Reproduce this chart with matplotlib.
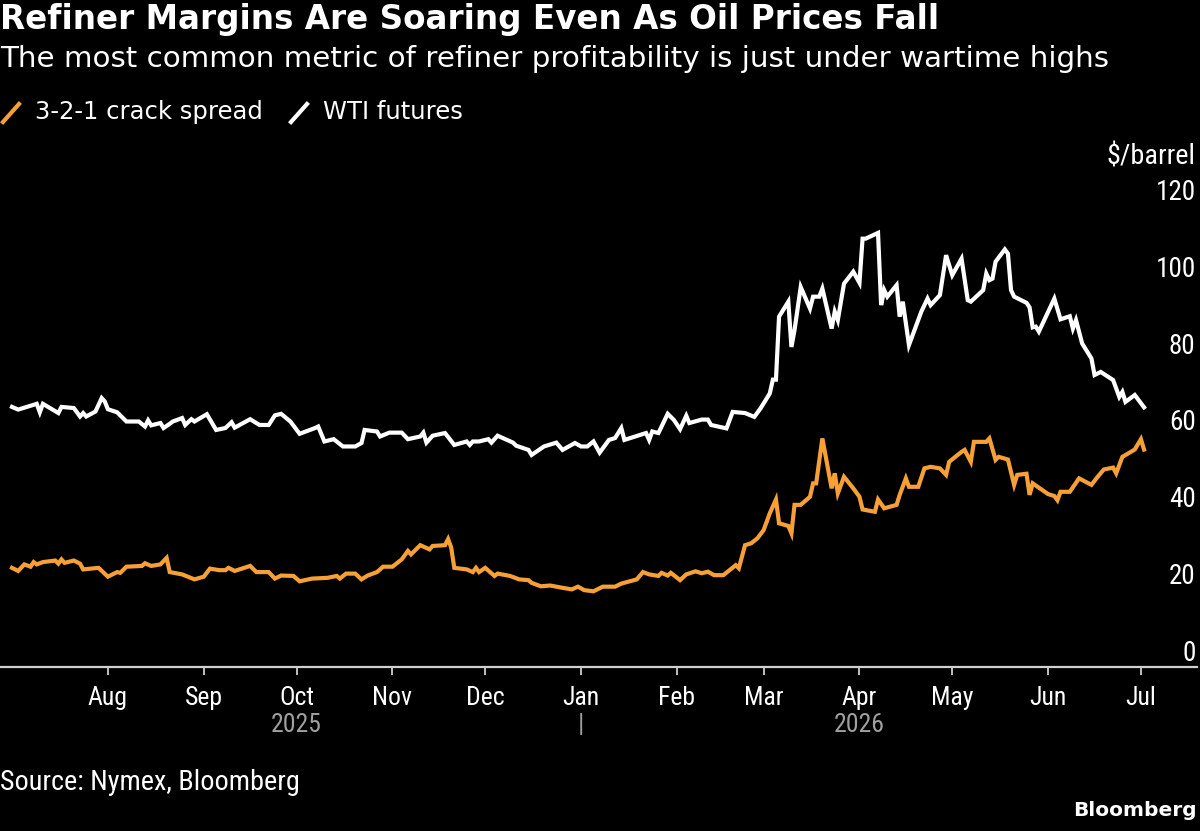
import pandas as pd
import matplotlib
matplotlib.use("Agg")
import matplotlib.pyplot as plt
import matplotlib.dates as mdates
import matplotlib.transforms as mtransforms
from matplotlib import font_manager
from matplotlib.lines import Line2D

# --- data ---
wti_dates = [
    "2025-07-01", "2025-07-03", "2025-07-09", "2025-07-10", "2025-07-11", "2025-07-16", "2025-07-17",
    "2025-07-21", "2025-07-23", "2025-07-24", "2025-07-25", "2025-07-28", "2025-07-30", "2025-07-31",
    "2025-08-01", "2025-08-04", "2025-08-07", "2025-08-11", "2025-08-13", "2025-08-14", "2025-08-15",
    "2025-08-18", "2025-08-19", "2025-08-21", "2025-08-22", "2025-08-25", "2025-08-26", "2025-08-28",
    "2025-08-29", "2025-09-02", "2025-09-05", "2025-09-08", "2025-09-10", "2025-09-11", "2025-09-16",
    "2025-09-19", "2025-09-22", "2025-09-24", "2025-09-26", "2025-09-29", "2025-10-02", "2025-10-07",
    "2025-10-08", "2025-10-10", "2025-10-13", "2025-10-16", "2025-10-20", "2025-10-22", "2025-10-23",
    "2025-10-27", "2025-10-28", "2025-10-31", "2025-11-04", "2025-11-06", "2025-11-10", "2025-11-11",
    "2025-11-12", "2025-11-14", "2025-11-18", "2025-11-21", "2025-11-25", "2025-11-26", "2025-11-27",
    "2025-11-29", "2025-12-02", "2025-12-03", "2025-12-05", "2025-12-10", "2025-12-11", "2025-12-15",
    "2025-12-16", "2025-12-20", "2025-12-24", "2025-12-26", "2025-12-30", "2026-01-01", "2026-01-03",
    "2026-01-05", "2026-01-07", "2026-01-10", "2026-01-12", "2026-01-14", "2026-01-15", "2026-01-22",
    "2026-01-23", "2026-01-24", "2026-01-26", "2026-01-29", "2026-01-31", "2026-02-02", "2026-02-04",
    "2026-02-05", "2026-02-09", "2026-02-11", "2026-02-12", "2026-02-17", "2026-02-19", "2026-02-23",
    "2026-02-26", "2026-02-28", "2026-03-03", "2026-03-04", "2026-03-05", "2026-03-06", "2026-03-09",
    "2026-03-10", "2026-03-11", "2026-03-13", "2026-03-16", "2026-03-17", "2026-03-19", "2026-03-20",
    "2026-03-23", "2026-03-24", "2026-03-25", "2026-03-27", "2026-03-30", "2026-04-01", "2026-04-02",
    "2026-04-03", "2026-04-07", "2026-04-08", "2026-04-09", "2026-04-10", "2026-04-13", "2026-04-14",
    "2026-04-15", "2026-04-17", "2026-04-21", "2026-04-23", "2026-04-24", "2026-04-27", "2026-04-29",
    "2026-05-01", "2026-05-04", "2026-05-06", "2026-05-07", "2026-05-11", "2026-05-12", "2026-05-13",
    "2026-05-14", "2026-05-15", "2026-05-18", "2026-05-19", "2026-05-20", "2026-05-21", "2026-05-25",
    "2026-05-26", "2026-05-27", "2026-05-28", "2026-05-29", "2026-06-03", "2026-06-05", "2026-06-08",
    "2026-06-09", "2026-06-10", "2026-06-12", "2026-06-15", "2026-06-16", "2026-06-18", "2026-06-22",
    "2026-06-24", "2026-06-25", "2026-06-26", "2026-06-29", "2026-07-02",
]
wti_values = [
    67.7, 67.0, 68.5, 66.3, 68.5, 66.1, 67.7,
    67.4, 65.2, 66.1, 65.2, 66.5, 70.0, 69.1,
    67.1, 66.3, 63.9, 63.9, 62.6, 64.2, 62.9,
    63.5, 62.2, 63.3, 63.9, 64.8, 63.0, 64.5,
    63.9, 65.8, 61.7, 62.2, 63.7, 62.3, 64.5,
    63.0, 63.0, 65.5, 65.9, 63.9, 60.7, 62.2,
    62.6, 58.7, 59.3, 57.4, 57.4, 58.3, 61.7,
    61.3, 60.0, 61.0, 61.0, 59.3, 60.0, 61.0,
    58.4, 60.2, 60.9, 57.8, 58.7, 57.8, 58.7,
    58.7, 59.3, 58.4, 60.2, 58.4, 57.6, 56.5,
    55.2, 57.4, 58.4, 56.5, 58.3, 57.4, 57.4,
    58.7, 55.8, 59.1, 59.6, 62.2, 59.1, 60.9,
    59.1, 61.3, 60.9, 65.9, 64.3, 61.9, 65.4,
    63.5, 64.4, 64.4, 63.0, 62.1, 66.4, 66.1,
    65.1, 67.3, 71.2, 74.8, 74.8, 91.2, 95.1,
    83.3, 87.7, 98.9, 93.3, 96.4, 96.4, 98.5,
    88.1, 92.5, 90.3, 99.8, 102.9, 100.0, 111.5,
    111.5, 113.0, 94.2, 98.1, 96.4, 99.4, 91.2,
    95.1, 83.8, 92.5, 95.9, 94.2, 96.8, 107.2,
    102.0, 106.3, 95.5, 95.1, 98.1, 102.4, 100.7,
    101.1, 105.5, 108.7, 107.6, 98.1, 96.4, 94.8,
    93.6, 88.4, 88.6, 87.3, 95.9, 90.5, 91.3,
    88.1, 90.3, 84.2, 80.3, 76.0, 76.8, 74.7,
    70.3, 71.6, 69.0, 70.8, 67.6,
]

crack_dates = [
    "2025-07-01", "2025-07-03", "2025-07-05", "2025-07-07", "2025-07-08", "2025-07-09", "2025-07-11",
    "2025-07-15", "2025-07-16", "2025-07-17", "2025-07-18", "2025-07-21", "2025-07-23", "2025-07-24",
    "2025-07-29", "2025-08-01", "2025-08-04", "2025-08-05", "2025-08-07", "2025-08-12", "2025-08-13",
    "2025-08-15", "2025-08-18", "2025-08-20", "2025-08-21", "2025-08-25", "2025-08-29", "2025-09-01",
    "2025-09-03", "2025-09-06", "2025-09-08", "2025-09-09", "2025-09-11", "2025-09-16", "2025-09-18",
    "2025-09-22", "2025-09-24", "2025-09-26", "2025-09-30", "2025-10-02", "2025-10-06", "2025-10-11",
    "2025-10-14", "2025-10-15", "2025-10-17", "2025-10-20", "2025-10-22", "2025-10-24", "2025-10-27",
    "2025-10-29", "2025-11-01", "2025-11-04", "2025-11-06", "2025-11-07", "2025-11-10", "2025-11-13",
    "2025-11-14", "2025-11-18", "2025-11-19", "2025-11-20", "2025-11-21", "2025-11-25", "2025-11-27",
    "2025-11-28", "2025-11-29", "2025-12-01", "2025-12-04", "2025-12-05", "2025-12-09", "2025-12-12",
    "2025-12-15", "2025-12-16", "2025-12-19", "2025-12-22", "2025-12-26", "2025-12-29", "2025-12-31",
    "2026-01-02", "2026-01-05", "2026-01-08", "2026-01-12", "2026-01-14", "2026-01-19", "2026-01-21",
    "2026-01-23", "2026-01-26", "2026-01-27", "2026-01-29", "2026-01-30", "2026-02-02", "2026-02-04",
    "2026-02-07", "2026-02-09", "2026-02-11", "2026-02-13", "2026-02-16", "2026-02-20", "2026-02-21",
    "2026-02-23", "2026-02-25", "2026-02-27", "2026-03-01", "2026-03-03", "2026-03-05", "2026-03-06",
    "2026-03-09", "2026-03-10", "2026-03-11", "2026-03-13", "2026-03-16", "2026-03-17", "2026-03-18",
    "2026-03-20", "2026-03-23", "2026-03-24", "2026-03-25", "2026-03-27", "2026-03-30", "2026-04-01",
    "2026-04-02", "2026-04-06", "2026-04-07", "2026-04-09", "2026-04-13", "2026-04-14", "2026-04-16",
    "2026-04-17", "2026-04-20", "2026-04-22", "2026-04-24", "2026-04-27", "2026-04-29", "2026-04-30",
    "2026-05-04", "2026-05-05", "2026-05-07", "2026-05-08", "2026-05-12", "2026-05-13", "2026-05-15",
    "2026-05-16", "2026-05-19", "2026-05-21", "2026-05-22", "2026-05-25", "2026-05-26", "2026-05-27",
    "2026-06-01", "2026-06-03", "2026-06-04", "2026-06-05", "2026-06-08", "2026-06-11", "2026-06-15",
    "2026-06-17", "2026-06-19", "2026-06-22", "2026-06-23", "2026-06-25", "2026-06-29", "2026-07-01",
    "2026-07-02",
]
crack_values = [
    25.8, 25.0, 26.7, 26.1, 27.3, 26.7, 27.3,
    27.7, 26.9, 28.0, 27.1, 27.7, 26.9, 25.4,
    25.8, 23.5, 24.7, 24.5, 26.1, 26.3, 27.0,
    26.3, 26.7, 28.4, 24.7, 24.1, 22.8, 23.5,
    25.6, 25.2, 25.2, 25.8, 25.0, 26.3, 24.7,
    24.7, 23.0, 23.8, 23.7, 22.3, 23.0, 23.2,
    23.7, 23.0, 24.3, 24.3, 22.8, 23.8, 24.7,
    26.1, 26.1, 28.0, 30.2, 29.3, 31.7, 30.6,
    31.5, 31.7, 33.3, 31.1, 25.8, 25.4, 24.7,
    25.8, 24.7, 25.8, 23.7, 24.3, 23.7, 22.8,
    22.6, 21.9, 21.0, 21.2, 20.6, 20.2, 20.9,
    20.0, 19.7, 20.9, 20.9, 21.7, 22.8, 24.7,
    24.1, 23.7, 24.5, 23.8, 24.5, 22.6, 24.1,
    24.9, 24.4, 24.8, 23.9, 23.9, 26.5, 25.7,
    31.7, 32.2, 33.5, 35.6, 40.0, 43.6, 37.4,
    36.7, 34.8, 42.2, 42.2, 44.3, 47.8, 47.8,
    59.5, 46.5, 50.4, 45.2, 49.5, 46.5, 44.3,
    41.0, 40.4, 43.6, 41.3, 42.2, 44.8, 49.1,
    46.9, 46.9, 51.7, 52.1, 51.7, 50.0, 53.4,
    56.0, 56.5, 53.4, 58.6, 58.6, 59.5, 53.9,
    54.7, 54.0, 47.4, 50.0, 50.3, 44.8, 47.8,
    45.0, 44.5, 43.4, 45.6, 45.6, 49.1, 47.4,
    49.5, 51.4, 51.9, 50.4, 54.7, 56.6, 59.3,
    56.6,
]

y_ticks = [0, 20, 40, 60, 80, 100, 120]
month_ticks = pd.date_range("2025-08-01", "2026-07-01", freq="MS")
year_labels = [("2025-10-01", "2025"), ("2026-01-01", "|"), ("2026-04-01", "2026")]

ORANGE = "#f7a035"
WHITE = "#ffffff"
GRID = "#5c5c5c"

# axis text uses a condensed face when one is installed
installed = {f.name for f in font_manager.fontManager.ttflist}
if "Roboto Condensed" in installed:
    NARROW, AX_SIZE = "Roboto Condensed", 18.5
else:
    NARROW, AX_SIZE = "DejaVu Sans", 15.5

fig = plt.figure(figsize=(12, 8.31), dpi=100, facecolor="black")
ax = fig.add_axes([0.0, 0.1974, 0.9975, 0.5547], facecolor="black")

ax.plot(pd.to_datetime(wti_dates), wti_values, color=WHITE, lw=3.0, solid_joinstyle="miter", zorder=3)
ax.plot(pd.to_datetime(crack_dates), crack_values, color=ORANGE, lw=3.0, solid_joinstyle="miter", zorder=3)

ax.set_xlim(pd.Timestamp("2025-06-27 03:00"), pd.Timestamp("2026-07-19 03:00"))
ax.set_ylim(0, 120)

for s in ["top", "left", "right"]:
    ax.spines[s].set_visible(False)
ax.spines["bottom"].set_color("#d0d0d0")
ax.spines["bottom"].set_linewidth(1.6)

# y axis: labels inside, on the right, sitting above the gridlines
ax.set_yticks(y_ticks)
ax.yaxis.grid(True, color=GRID, lw=1.4)
ax.set_axisbelow(True)
ax.tick_params(axis="y", length=0, labelleft=False, labelright=True, pad=-1,
               labelsize=AX_SIZE + 1, labelcolor=WHITE)
for t in ax.yaxis.get_major_ticks():
    t.label2.set_horizontalalignment("right")
    t.label2.set_verticalalignment("bottom")
    t.label2.set_family(NARROW)
    t.gridline.set_visible(t.get_loc() != 0)

# x axis: month ticks
ax.set_xticks(month_ticks)
ax.xaxis.set_major_formatter(mdates.DateFormatter("%b"))
ax.tick_params(axis="x", length=6, width=1.3, color="#d0d0d0", labelcolor=WHITE,
               labelsize=AX_SIZE, pad=8)
for lbl in ax.get_xticklabels():
    lbl.set_family(NARROW)

xtrans = mtransforms.blended_transform_factory(ax.transData, ax.transAxes)
for d, txt in year_labels:
    ax.text(pd.Timestamp(d), -0.126, txt, transform=xtrans, ha="center", va="center",
            fontsize=AX_SIZE, color="#a0a0a0", family=NARROW, clip_on=False)

# titles
fig.text(0.0, 1 - 20 / 831, "Refiner Margins Are Soaring Even As Oil Prices Fall",
         fontsize=23.5, fontweight="bold", color=WHITE, ha="left", va="center")
fig.text(0.0, 1 - 59 / 831,
         "The most common metric of refiner profitability is just under wartime highs",
         fontsize=21.2, color=WHITE, ha="left", va="center")

# legend
leg_y = 1 - 112 / 831
fig.add_artist(Line2D([3 / 1200, 19 / 1200], [1 - 122 / 831, 1 - 104 / 831],
                      color=ORANGE, lw=3, transform=fig.transFigure))
fig.text(35 / 1200, leg_y, "3-2-1 crack spread", fontsize=17.5, color=WHITE, ha="left", va="center")
fig.add_artist(Line2D([291 / 1200, 307 / 1200], [1 - 122 / 831, 1 - 104 / 831],
                      color=WHITE, lw=3, transform=fig.transFigure))
fig.text(323 / 1200, leg_y, "WTI futures", fontsize=17.5, color=WHITE, ha="left", va="center")

fig.text(1195.5 / 1200, 1 - 157 / 831, "$/barrel", fontsize=AX_SIZE + 1.8, color=WHITE,
         ha="right", va="center", family=NARROW)

# footer
fig.text(0.0, 1 - 783 / 831, "Source: Nymex, Bloomberg", fontsize=AX_SIZE + 1.8, color=WHITE,
         ha="left", va="center", family=NARROW)
fig.text(1197 / 1200, 1 - 811 / 831, "Bloomberg", fontsize=14.5, fontweight="bold",
         color=WHITE, ha="right", va="center")

fig.savefig("out.png", dpi=100, facecolor="black")
